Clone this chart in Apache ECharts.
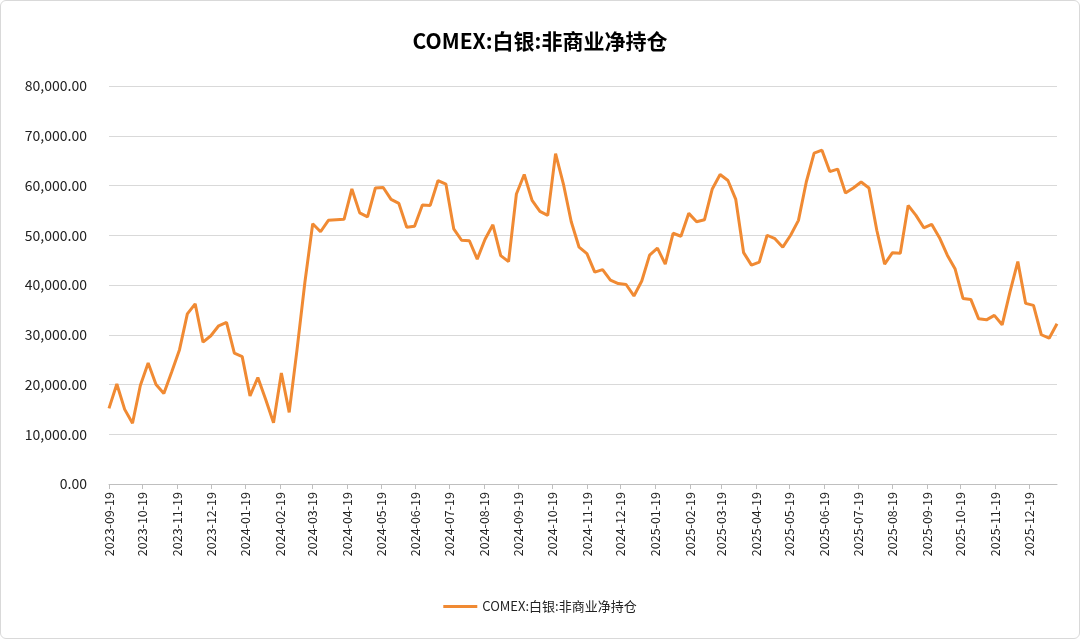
<!DOCTYPE html>
<html><head><meta charset="utf-8">
<script src="https://cdn.jsdelivr.net/npm/echarts@6/dist/echarts.min.js"></script>
<style>html,body{margin:0;padding:0;background:#fff}#c{width:1078px;height:637px;border:1px solid #d9d9d9;border-radius:6px}</style>
</head><body><div id="c"></div>
<script>
const startDate = '2023-09-19';
const endDate = '2026-01-13';
const seriesName = 'COMEX:白银:非商业净持仓';
// weekly values (Tuesdays from 2023-09-19)
const weeklyValues = [15200,20100,15000,12200,19800,24300,20000,18200,22500,27000,
34200,36200,28500,29800,31800,32500,26300,25600,17700,21400,
17000,12300,22300,14400,27000,40500,52300,50700,53000,53100,
53200,59300,54500,53700,59500,59600,57200,56400,51600,51800,
56100,56000,61000,60300,51300,49000,48900,45200,49200,52100,
45900,44700,58300,62200,57000,54800,54000,66400,60300,52700,
47600,46300,42600,43100,41000,40300,40100,37800,40800,46000,
47400,44200,50400,49800,54400,52700,53100,59300,62200,61000,
57200,46500,44000,44600,50000,49300,47600,50000,53000,60700,
66500,67100,62800,63300,58500,59500,60700,59500,51000,44200,
46500,46400,56000,54000,51500,52200,49500,46000,43200,37300,
37100,33200,33000,33900,32000,38600,44700,36300,35900,30000,
29300,32200];
const days = [], vals = [];
const pad = n => String(n).padStart(2,'0');
let d = new Date(startDate + 'T00:00:00Z'), end = new Date(endDate + 'T00:00:00Z'), i = 0;
while (d <= end) {
  days.push(d.getUTCFullYear()+'-'+pad(d.getUTCMonth()+1)+'-'+pad(d.getUTCDate()));
  vals.push(i % 7 === 0 ? (weeklyValues[i/7] ?? null) : null);
  d = new Date(d.getTime()+86400000); i++;
}
const is19 = (idx) => days[idx].slice(8) === '19';
const ch = echarts.init(document.getElementById('c'));
ch.setOption({
  textStyle:{fontFamily:'"Noto Sans CJK SC","Noto Sans",sans-serif'},
  title:{text:seriesName,left:'center',top:25,textStyle:{fontSize:21,fontWeight:'bold',color:'#000'}},
  legend:{bottom:20,itemWidth:34,itemHeight:3,textStyle:{fontSize:13,color:'#222'},
    data:[{name:seriesName,icon:'rect'}]},
  grid:{left:108,right:22,top:85,bottom:154,containLabel:false},
  xAxis:{type:'category',data:days,boundaryGap:false,
    axisLine:{lineStyle:{color:'#bfbfbf'}},
    axisTick:{show:true,interval:(idx)=>is19(idx),length:5,lineStyle:{color:'#bfbfbf'}},
    axisLabel:{interval:(idx)=>is19(idx),rotate:90,color:'#222',fontSize:12.5,margin:8}},
  yAxis:{type:'value',min:0,max:80000,interval:10000,
    axisLabel:{color:'#222',fontSize:14,margin:22,formatter:v=>v.toLocaleString('en-US',{minimumFractionDigits:2,maximumFractionDigits:2})},
    splitLine:{lineStyle:{color:'#d9d9d9'}}},
  series:[{name:seriesName,type:'line',data:vals,connectNulls:true,showSymbol:false,
    lineStyle:{color:'#f08a33',width:3},itemStyle:{color:'#f08a33'}}]
});
</script></body></html>
